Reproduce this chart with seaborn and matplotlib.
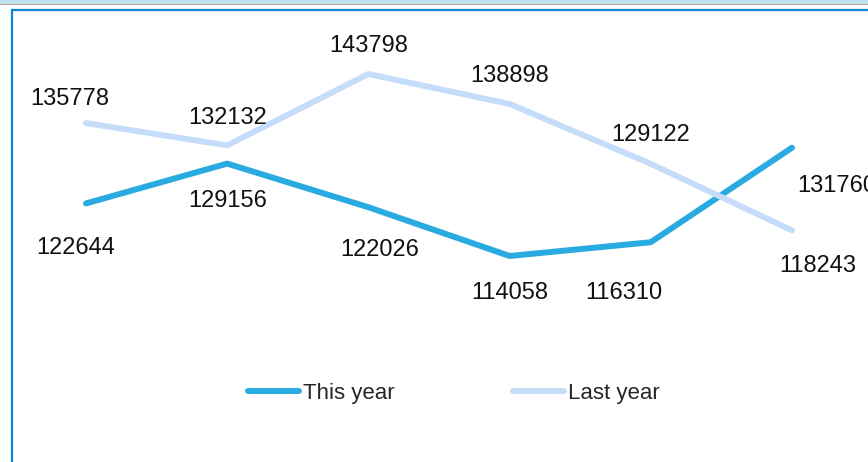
import numpy as np
import pandas as pd
import seaborn as sns
import matplotlib.pyplot as plt
from matplotlib.patches import Rectangle

# datos
puntos = ["P1", "P2", "P3", "P4", "P5", "P6"]
this_year = [122644, 129156, 122026, 114058, 116310, 131760]
last_year = [135778, 132132, 143798, 138898, 129122, 118243]
series = ["This year", "Last year"]
colores = ["#29ABE2", "#C6DDFA"]

# desplazamientos de etiquetas (pixeles, x derecha / y arriba)
off_this = [(-10, -45), (0, -37), (11, -43), (0, -37), (-27, -51), (45, -38)]
off_last = [(-16, 24), (0, 27), (0, 28), (0, 28), (0, 29), (26, -36)]

df = pd.DataFrame({
    "x": list(range(len(puntos))) * 2,
    "valor": this_year + last_year,
    "serie": [series[0]] * len(puntos) + [series[1]] * len(puntos),
})

sns.set_style("white")
plt.rcParams["font.family"] = ["Liberation Sans", "DejaVu Sans"]

fig = plt.figure(figsize=(8.68, 4.62), dpi=100)
ax = fig.add_axes([15.4 / 868, 162 / 462, 847.2 / 868, 260 / 462])

sns.lineplot(data=df, x="x", y="valor", hue="serie", hue_order=series,
             palette=colores, linewidth=4.3, ax=ax, legend=False,
             solid_capstyle="round")
ax.set_xlim(-0.5, 5.5)
ax.set_ylim(106868, 149352)
ax.set_axis_off()

# etiquetas de valores (la ultima queda cortada en el borde, como en el original)
for vals, offs in [(this_year, off_this), (last_year, off_last)]:
    for i, (v, (dx, dy)) in enumerate(zip(vals, offs)):
        ax.annotate(str(v), (i, v), xytext=(dx, dy), textcoords="offset pixels",
                    ha="center", va="center", fontsize=17, color="#111111",
                    annotation_clip=False)

# leyenda
handles = [plt.Line2D([], [], color=c, linewidth=4.3, solid_capstyle="round") for c in colores]
fig.legend(handles, series, loc="center", bbox_to_anchor=(454 / 868, 69 / 462),
           ncol=2, frameon=False, fontsize=16, handlelength=2.3,
           handletextpad=0.2, columnspacing=5.3)

# marco y franja superior
fig.patches.append(Rectangle((0, 458 / 462), 1, 4 / 462, transform=fig.transFigure,
                             facecolor="#BFE1EE", edgecolor="none", zorder=0))
fig.patches.append(Rectangle((0, 457 / 462), 1, 1.2 / 462, transform=fig.transFigure,
                             facecolor="#BBA595", edgecolor="none", zorder=0))
fig.patches.append(Rectangle((12 / 868, -0.05), 1.0, 452 / 462 + 0.05,
                             transform=fig.transFigure, facecolor="none",
                             edgecolor="#0A88D0", linewidth=1.6, zorder=0))

plt.savefig("out.png", dpi=100)
